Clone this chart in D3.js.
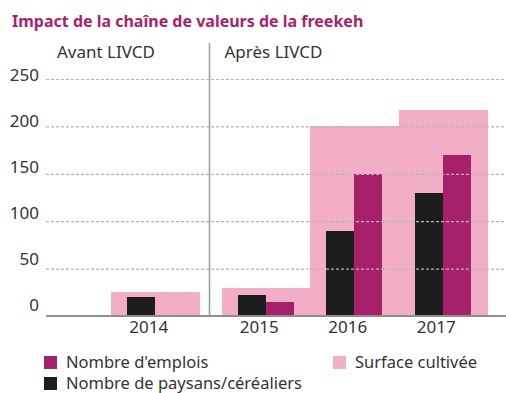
<!DOCTYPE html>
<html>
<head>
<meta charset="utf-8">
<script src="https://cdn.jsdelivr.net/npm/d3@7"></script>
<style>
  html, body { margin: 0; padding: 0; background: #fff; }
  svg { display: block; font-family: "Noto Sans", "Open Sans", sans-serif; }
</style>
</head>
<body>
<svg id="chart" width="506" height="393"></svg>
<script>
// Freekeh value chain, before / after LIVCD
const years = ["2014", "2015", "2016", "2017"];
const farmers = [20, 22, 90, 130];      // Nombre de paysans/céréaliers
const jobs = [0, 15, 150, 170];         // Nombre d'emplois
const area = [25, 30, 200, 217];        // Surface cultivée
const yTicks = [0, 50, 100, 150, 200, 250];
const eraLabels = ["Avant LIVCD", "Après LIVCD"];
const firstYearAfter = "2015";

const colors = { jobs: "#a6216a", farmers: "#1d1d20", area: "#f2aec6" };

const svg = d3.select("#chart");
const plotLeft = 46, plotRight = 506, plotTop = 79, plotBottom = 316;
const slot = 88.5, eraGap = 22;

// Years sit in equal slots, with a gap where the programme starts
const afterIdx = years.indexOf(firstYearAfter);
const slotStart = yr => {
  const i = years.indexOf(yr);
  return 111 + i * slot + (i >= afterIdx ? eraGap : 0);
};
const x = d3.scaleOrdinal().domain(years).range(years.map(slotStart));
const bandW = slot;
const inner = d3.scaleBand().domain(["farmers", "jobs"]).range([bandW / 2 - 28, bandW / 2 + 28]).padding(0);

const y = d3.scaleLinear().domain([0, 250]).range([plotBottom, plotTop]);

// Title
svg.append("text")
  .attr("x", 12).attr("y", 27)
  .attr("fill", "#a8226d")
  .attr("font-weight", "bold")
  .attr("font-size", 16)
  .text("Impact de la chaîne de valeurs de la freekeh");

// Area bands (behind)
svg.append("g").attr("shape-rendering", "crispEdges")
  .selectAll("rect").data(years).join("rect")
  .attr("x", d => x(d))
  .attr("width", bandW + 0.5)
  .attr("y", (d, i) => y(area[i]))
  .attr("height", (d, i) => y(0) - y(area[i]))
  .attr("fill", colors.area);

// Farmers and jobs bars
const g = svg.append("g").attr("shape-rendering", "crispEdges");
years.forEach((yr, i) => {
  g.append("rect")
    .attr("x", x(yr) + inner("farmers"))
    .attr("width", inner.bandwidth())
    .attr("y", y(farmers[i]))
    .attr("height", y(0) - y(farmers[i]))
    .attr("fill", colors.farmers);
  g.append("rect")
    .attr("x", x(yr) + inner("jobs"))
    .attr("width", inner.bandwidth())
    .attr("y", y(jobs[i]))
    .attr("height", y(0) - y(jobs[i]))
    .attr("fill", colors.jobs);
});

// Dotted gridlines drawn over the bars
const yAxis = svg.append("g")
  .attr("transform", `translate(${plotLeft},0)`)
  .call(d3.axisLeft(y).tickValues(yTicks).tickSize(-(plotRight - plotLeft)).tickPadding(7));
yAxis.select(".domain").remove();
yAxis.selectAll(".tick line")
  .attr("stroke", d => d === 0 ? "none" : "#b5b5b5")
  .attr("stroke-width", 1.2)
  .attr("stroke-dasharray", "3,2");
yAxis.selectAll(".tick text")
  .attr("fill", "#333")
  .attr("font-size", 17)
  .attr("font-family", "'Noto Sans', sans-serif")
  .attr("transform", d => `translate(0,${-3.5 - (250 - d) * 0.03})`);

// Baseline
svg.append("line")
  .attr("x1", plotLeft).attr("x2", plotRight)
  .attr("y1", plotBottom).attr("y2", plotBottom)
  .attr("stroke", "#8f8f8f").attr("stroke-width", 2);

// Divider between the two periods
const divX = slotStart(firstYearAfter) - eraGap / 2 - 1;
svg.append("line")
  .attr("x1", divX).attr("x2", divX)
  .attr("y1", 43).attr("y2", plotBottom)
  .attr("stroke", "#9a9a9e").attr("stroke-width", 1.5);

// Year labels
const xAxis = svg.append("g")
  .attr("transform", `translate(0,${plotBottom})`)
  .call(d3.axisBottom(d3.scaleOrdinal().domain(years).range(years.map(d => x(d) + bandW / 2 - 7)))
    .tickSize(0).tickPadding(5));
xAxis.select(".domain").remove();
xAxis.selectAll(".tick text")
  .attr("fill", "#333")
  .attr("font-size", 17)
  .attr("font-family", "'Noto Sans', sans-serif");

// Period labels
svg.append("g").selectAll("text").data(eraLabels).join("text")
  .attr("x", (d, i) => i === 0 ? 57 : divX + 15)
  .attr("y", 58)
  .attr("fill", "#333")
  .attr("font-size", 17)
  .text(d => d);

// Legend
const legend = [
  { label: "Nombre d'emplois", color: colors.jobs, lx: 44, ly: 356 },
  { label: "Nombre de paysans/céréaliers", color: colors.farmers, lx: 44, ly: 377 },
  { label: "Surface cultivée", color: colors.area, lx: 333, ly: 356 }
];
const lg = svg.append("g").selectAll("g").data(legend).join("g")
  .attr("transform", d => `translate(${d.lx},${d.ly})`);
lg.append("rect").attr("width", 13).attr("height", 13).attr("fill", d => d.color);
lg.append("text")
  .attr("x", 22).attr("y", 12)
  .attr("fill", "#333")
  .attr("font-size", 16.5)
  .text(d => d.label);
</script>
</body>
</html>
